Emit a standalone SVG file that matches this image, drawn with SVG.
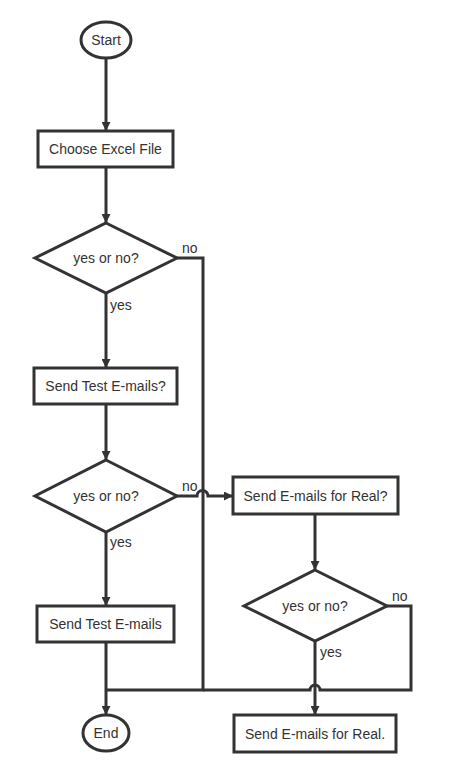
<svg xmlns="http://www.w3.org/2000/svg" width="451" height="765" viewBox="0 0 451 765">
<style>
.s{fill:#fff;stroke:#333;stroke-width:3}
.c{fill:none;stroke:#333;stroke-width:3}
text{font-family:"Liberation Sans",Arial,sans-serif;font-size:14px;fill:#333}
.m{text-anchor:middle;dominant-baseline:central}
</style>
<defs>
<marker id="a" viewBox="0 0 10 10" refX="10" refY="5" markerWidth="3" markerHeight="3" orient="auto" markerUnits="strokeWidth">
<path d="M0,0L10,5L0,10z" fill="#333"/>
</marker>
</defs>
<rect width="451" height="765" fill="#fff"/>
<g id="connectors">
<path class="c" d="M106,58V131" marker-end="url(#a)"/>
<path class="c" d="M106,167V223" marker-end="url(#a)"/>
<path class="c" d="M106,293V368" marker-end="url(#a)"/>
<path class="c" d="M106,404V460" marker-end="url(#a)"/>
<path class="c" d="M106,532V606" marker-end="url(#a)"/>
<path class="c" d="M106,642V715" marker-end="url(#a)"/>
<path class="c" d="M177,258H203V690H106"/>
<path class="c" d="M177,496H197A5,5 0 0 1 208,496H233" marker-end="url(#a)"/>
<path class="c" d="M315,514V570" marker-end="url(#a)"/>
<path class="c" d="M315,641V715" marker-end="url(#a)"/>
<path class="c" d="M387,606H411V690H320A5,5 0 0 0 310,690H203"/>
<text x="182" y="253">no</text>
<text x="110" y="310">yes</text>
<text x="182" y="491">no</text>
<text x="110" y="547">yes</text>
<text x="392" y="601">no</text>
<text x="320" y="657">yes</text>
</g>
<g id="start">
<ellipse class="s" cx="106" cy="40" rx="25" ry="18"/>
<text class="m" x="106" y="40">Start</text>
</g>
<g id="choose">
<rect class="s" x="38" y="131" width="135" height="36"/>
<text class="m" x="105.5" y="149">Choose Excel File</text>
</g>
<g id="d1">
<path class="s" d="M106,223L177,258L106,293L35,258Z"/>
<text class="m" x="106" y="258">yes or no?</text>
</g>
<g id="testq">
<rect class="s" x="34" y="368" width="143" height="36"/>
<text class="m" x="105.5" y="386">Send Test E-mails?</text>
</g>
<g id="d2">
<path class="s" d="M106,460L177,496L106,532L35,496Z"/>
<text class="m" x="106" y="496">yes or no?</text>
</g>
<g id="realq">
<rect class="s" x="233" y="477" width="165" height="37"/>
<text class="m" x="315.5" y="495.5">Send E-mails for Real?</text>
</g>
<g id="testsend">
<rect class="s" x="37" y="606" width="137" height="36"/>
<text class="m" x="105.5" y="624">Send Test E-mails</text>
</g>
<g id="d3">
<path class="s" d="M315,570L387,606L315,641L244,606Z"/>
<text class="m" x="315" y="606">yes or no?</text>
</g>
<g id="realsend">
<rect class="s" x="234" y="715" width="162" height="37"/>
<text class="m" x="315" y="733.5">Send E-mails for Real.</text>
</g>
<g id="end">
<ellipse class="s" cx="106" cy="733" rx="23" ry="18"/>
<text class="m" x="106" y="733">End</text>
</g>
</svg>
